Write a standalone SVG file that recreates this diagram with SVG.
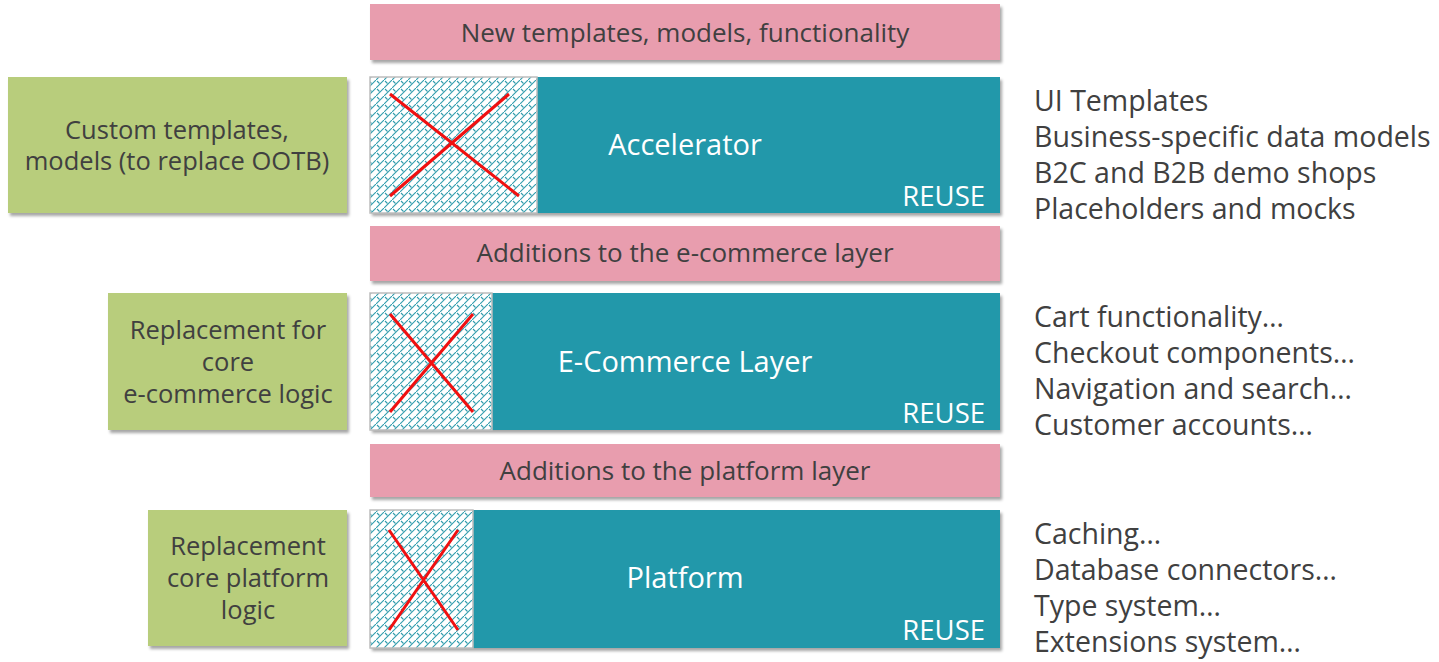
<svg xmlns="http://www.w3.org/2000/svg" width="1439" height="662" viewBox="0 0 1439 662">
<defs>
<filter id="sh" x="-5%" y="-10%" width="115%" height="130%">
<feDropShadow dx="2" dy="3" stdDeviation="1.5" flood-color="#000" flood-opacity="0.35"/>
</filter>
<pattern id="hatch" patternUnits="userSpaceOnUse" width="8" height="8">
<rect width="8" height="8" fill="#fff"/>
<path d="M0 8 L8 0" stroke="#2f9cad" stroke-width="1.1" fill="none"/>
<path d="M1 1 L3.5 3.5" stroke="#2f9cad" stroke-width="1.1" fill="none"/>
</pattern>
<style>
.pink{fill:#e89dae}
.teal{fill:#2398aa}
.green{fill:#b8cd7c}
.hat{fill:url(#hatch);stroke:#bdbdbd;stroke-width:1.5}
.x{stroke:#f01010;stroke-width:3;fill:none}
text{font-family:"Open Sans","Liberation Sans",sans-serif}
.dark{fill:#404040;font-size:26px}
.gtxt{fill:#404040;font-size:25.5px}
.side{fill:#404040;font-size:28.5px}
.title{fill:#fff;font-size:29px}
.reuse{fill:#fff;font-size:27.5px}
</style>
</defs>

<g id="top-bar">
<rect class="pink" x="370" y="4" width="630" height="56" filter="url(#sh)"/>
<text class="dark" x="685" y="42" text-anchor="middle">New templates, models, functionality</text>
</g>

<g id="accelerator">
<rect class="teal" x="370" y="77" width="630" height="136" filter="url(#sh)"/>
<rect class="hat" x="370" y="77" width="167" height="136"/>
<path class="x" d="M390 94 L519 196 M509 94 L390 196"/>
<text class="title" x="685" y="155" text-anchor="middle">Accelerator</text>
<text class="reuse" x="985" y="206" text-anchor="end">REUSE</text>
</g>

<g id="ecom-additions">
<rect class="pink" x="370" y="226" width="630" height="55" filter="url(#sh)"/>
<text class="dark" x="685" y="262" text-anchor="middle">Additions to the e-commerce layer</text>
</g>

<g id="ecommerce">
<rect class="teal" x="370" y="293" width="630" height="137" filter="url(#sh)"/>
<rect class="hat" x="370" y="293" width="122" height="137"/>
<path class="x" d="M390 314 L473 412 M473 314 L390 412"/>
<text class="title" x="685" y="372" text-anchor="middle">E-Commerce Layer</text>
<text class="reuse" x="985" y="423" text-anchor="end">REUSE</text>
</g>

<g id="platform-additions">
<rect class="pink" x="370" y="444" width="630" height="53" filter="url(#sh)"/>
<text class="dark" x="685" y="480" text-anchor="middle">Additions to the platform layer</text>
</g>

<g id="platform">
<rect class="teal" x="370" y="510" width="630" height="138" filter="url(#sh)"/>
<rect class="hat" x="370" y="510" width="103" height="138"/>
<path class="x" d="M389 530 L458 630 M458 530 L389 630"/>
<text class="title" x="685" y="588" text-anchor="middle">Platform</text>
<text class="reuse" x="985" y="640" text-anchor="end">REUSE</text>
</g>

<g id="custom-templates">
<rect class="green" x="8" y="77" width="339" height="136" filter="url(#sh)"/>
<text class="gtxt" x="177" y="138.5" text-anchor="middle">Custom templates,</text>
<text class="gtxt" x="177" y="170" text-anchor="middle">models (to replace OOTB)</text>
</g>

<g id="replacement-ecommerce">
<rect class="green" x="108" y="293" width="239" height="137" filter="url(#sh)"/>
<text class="gtxt" x="228" y="338.5" text-anchor="middle">Replacement for</text>
<text class="gtxt" x="228" y="370.5" text-anchor="middle">core</text>
<text class="gtxt" x="228" y="402.5" text-anchor="middle">e-commerce logic</text>
</g>

<g id="replacement-platform">
<rect class="green" x="148" y="510" width="199" height="136" filter="url(#sh)"/>
<text class="gtxt" x="248" y="554.5" text-anchor="middle">Replacement</text>
<text class="gtxt" x="248" y="586.5" text-anchor="middle">core platform</text>
<text class="gtxt" x="248" y="618.5" text-anchor="middle">logic</text>
</g>

<g id="accelerator-features">
<text class="side"><tspan x="1034" y="111">UI Templates</tspan><tspan x="1034" y="147">Business-specific data models</tspan><tspan x="1034" y="183">B2C and B2B demo shops</tspan><tspan x="1034" y="219">Placeholders and mocks</tspan></text>
</g>

<g id="ecommerce-features">
<text class="side"><tspan x="1034" y="327">Cart functionality…</tspan><tspan x="1034" y="363">Checkout components…</tspan><tspan x="1034" y="399">Navigation and search…</tspan><tspan x="1034" y="435">Customer accounts…</tspan></text>
</g>

<g id="platform-features">
<text class="side"><tspan x="1034" y="544">Caching…</tspan><tspan x="1034" y="580">Database connectors…</tspan><tspan x="1034" y="616">Type system…</tspan><tspan x="1034" y="652">Extensions system…</tspan></text>
</g>

<g id="connectors"></g>
</svg>
